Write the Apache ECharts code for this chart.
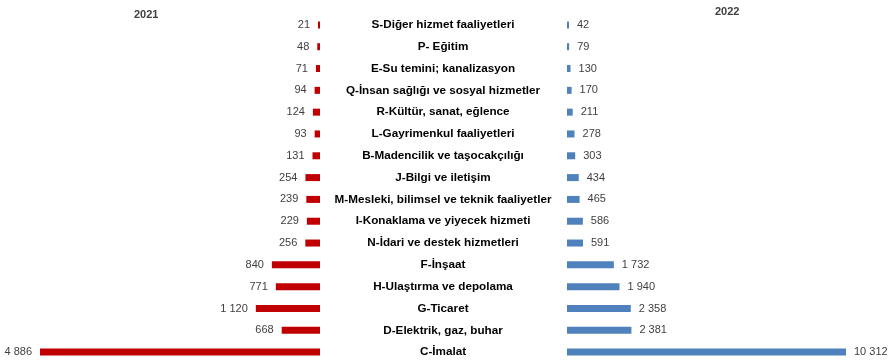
<!DOCTYPE html>
<html><head><meta charset="utf-8">
<script src="https://cdn.jsdelivr.net/npm/echarts@6/dist/echarts.min.js"></script>
<style>html,body{margin:0;padding:0;background:#fff}#c{width:895px;height:363px}</style>
</head><body><div id="c"></div>
<script>
const categories = [
  "S-Diğer hizmet faaliyetleri",
  "P- Eğitim",
  "E-Su temini; kanalizasyon",
  "Q-İnsan sağlığı ve sosyal hizmetler",
  "R-Kültür, sanat, eğlence",
  "L-Gayrimenkul faaliyetleri",
  "B-Madencilik ve taşocakçılığı",
  "J-Bilgi ve iletişim",
  "M-Mesleki, bilimsel ve teknik faaliyetler",
  "I-Konaklama ve yiyecek hizmeti",
  "N-İdari ve destek hizmetleri",
  "F-İnşaat",
  "H-Ulaştırma ve depolama",
  "G-Ticaret",
  "D-Elektrik, gaz, buhar",
  "C-İmalat"
];
const values2021 = [21, 48, 71, 94, 124, 93, 131, 254, 239, 229, 256, 840, 771, 1120, 668, 4886];
const values2022 = [42, 79, 130, 170, 211, 278, 303, 434, 465, 586, 591, 1732, 1940, 2358, 2381, 10312];
const seriesNames = ["2021", "2022"];

const fmt = v => String(v).replace(/\B(?=(\d{3})+(?!\d))/g, ' ');
const chart = echarts.init(document.getElementById('c'), null, {renderer: 'canvas'});
const font = '"Liberation Sans", Arial, sans-serif';
chart.setOption({
  animation: false,
  backgroundColor: '#fff',
  textStyle: {fontFamily: font},
  graphic: [
    {type: 'text', left: 148 - 14, top: 9, style: {text: seriesNames[0], font: 'bold 11px ' + font, fill: '#404040'}},
    {type: 'text', left: 729 - 14, top: 6, style: {text: seriesNames[1], font: 'bold 11px ' + font, fill: '#404040'}}
  ],
  grid: [
    {left: 40, width: 280, top: 14, height: 351},
    {left: 567, width: 279, top: 14, height: 351}
  ],
  xAxis: [
    {gridIndex: 0, type: 'value', inverse: true, min: 0, max: 4886, show: false},
    {gridIndex: 1, type: 'value', min: 0, max: 10312, show: false}
  ],
  yAxis: [
    {gridIndex: 0, type: 'category', data: categories, inverse: true, show: false},
    {gridIndex: 1, type: 'category', data: categories, inverse: true,
     axisLine: {show: false}, axisTick: {show: false},
     axisLabel: {align: 'center', margin: 124, fontWeight: 'bold', fontSize: 11.7, color: '#000', fontFamily: font}}
  ],
  series: [
    {name: seriesNames[0], type: 'bar', xAxisIndex: 0, yAxisIndex: 0, data: values2021, barWidth: 7, barMinHeight: 2,
     itemStyle: {color: '#C00000'},
     label: {show: true, position: 'left', distance: 8, color: '#404040', fontSize: 11, fontFamily: font, formatter: p => fmt(p.value)}},
    {name: seriesNames[1], type: 'bar', xAxisIndex: 1, yAxisIndex: 1, data: values2022, barWidth: 7, barMinHeight: 2,
     itemStyle: {color: '#4F81BD'},
     label: {show: true, position: 'right', distance: 8, color: '#404040', fontSize: 11, fontFamily: font, formatter: p => fmt(p.value)}}
  ]
});
</script></body></html>
